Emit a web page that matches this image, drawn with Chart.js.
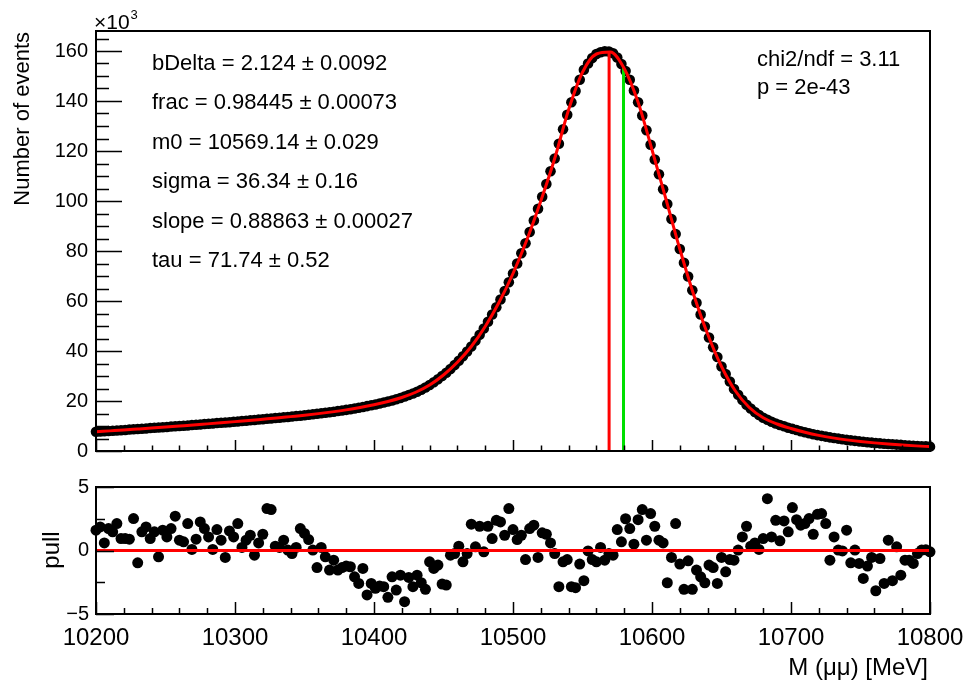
<!DOCTYPE html>
<html>
<head>
<meta charset="utf-8">
<title>Fit of M(mumu)</title>
<script src="https://cdn.jsdelivr.net/npm/chart.js@4.4.1/dist/chart.umd.min.js"></script>
<style>
  html, body { margin: 0; padding: 0; background: #fff; }
  #wrap { position: relative; width: 966px; height: 681px; overflow: hidden; }
  canvas { position: absolute; left: 0; }
  #top { top: 0; }
  #pull { top: 470px; }
</style>
</head>
<body>
<div id="wrap">
  <canvas id="top" width="966" height="470"></canvas>
  <canvas id="pull" width="966" height="211"></canvas>
</div>
<script>
// bins: 3 MeV wide, first bin centre at 10200
const massStart = 10200;
const binWidth = 3;

// events per bin, in units of 10^3
const eventsK = [
  7.7, 7.8, 7.9, 8.0, 8.1, 8.2, 8.3, 8.4, 8.6, 8.7,
  8.8, 8.9, 9.0, 9.2, 9.3, 9.4, 9.5, 9.6, 9.8, 9.9,
  10.0, 10.1, 10.2, 10.4, 10.5, 10.6, 10.8, 10.9, 11.0, 11.2,
  11.3, 11.4, 11.5, 11.7, 11.8, 12.0, 12.1, 12.3, 12.4, 12.6,
  12.7, 12.9, 13.0, 13.2, 13.3, 13.5, 13.6, 13.8, 14.0, 14.1,
  14.3, 14.5, 14.7, 14.9, 15.1, 15.3, 15.5, 15.7, 16.0, 16.2,
  16.45, 16.7, 17.0, 17.3, 17.6, 17.95, 18.3, 18.6, 19.0, 19.4,
  19.8, 20.2, 20.7, 21.2, 21.8, 22.4, 23.0, 23.7, 24.5, 25.4,
  26.4, 27.5, 28.7, 30.0, 31.3, 32.8, 34.4, 36.1, 37.9, 39.8,
  41.8, 44.1, 46.5, 49.0, 51.7, 54.6, 57.5, 60.6, 64.0, 67.5,
  71.0, 75.0, 79.1, 83.1, 87.6, 92.2, 96.9, 101.7, 106.8, 111.9,
  117.0, 122.9, 128.7, 134.5, 139.5, 144.0, 148.5, 152.5, 155.0, 157.2,
  158.8, 159.5, 159.9, 159.8, 159.1, 157.4, 154.8, 152.0, 148.5, 144.2,
  139.5, 134.2, 128.3, 122.5, 116.6, 110.7, 104.7, 98.8, 92.8, 86.8,
  80.8, 75.3, 69.8, 64.3, 59.3, 54.6, 49.8, 45.4, 41.5, 37.6,
  33.8, 30.8, 27.8, 24.8, 22.5, 20.4, 18.5, 17.0, 15.6, 14.4,
  13.3, 12.5, 11.7, 11.0, 10.4, 9.9, 9.3, 8.85, 8.4, 7.9,
  7.5, 7.1, 6.7, 6.35, 6.05, 5.75, 5.45, 5.2, 4.95, 4.7,
  4.45, 4.25, 4.05, 3.85, 3.7, 3.5, 3.35, 3.2, 3.05, 2.9,
  2.8, 2.7, 2.55, 2.45, 2.3, 2.2, 2.1, 2.0, 1.9, 1.85,
  1.75
];

// pull of each bin
const pulls = [
  1.6, 1.86, 0.6, 1.73, 1.47, 2.12, 0.94, 0.94, 0.89, 2.51,
  -0.97, 1.47, 1.86, 0.94, 1.47, -0.5, 1.6, 1.07, 1.73, 2.7,
  0.81, 0.68, 2.12, 0.08, 0.89, 2.25, 1.73, 1.07, 0.08, 1.65,
  0.81, -0.55, 1.54, 1.07, 2.12, 0.24, 0.81, 1.2, -0.37, 0.6,
  1.28, 3.3, 3.22, 0.34, 0.24, 0.81, 0.03, -0.24, 0.24, 1.73,
  1.34, 0.86, 0.03, -1.34, 0.24, -0.5, -1.54, -0.76, -1.54, -1.34,
  -1.23, -1.28, -2.07, -2.59, -1.41, -3.5, -2.59, -2.98, -2.8, -2.85,
  -3.69, -2.07, -3.12, -1.94, -4.03, -2.12, -2.85, -1.94, -2.54, -3.06,
  -0.89, -1.41, -1.15, -2.64, -2.72, -0.37, -0.24, 0.34, -0.89, -0.24,
  2.07, 0.29, 1.91, -0.1, 1.91, 0.94, 2.38, 2.25, 1.2, 3.3,
  1.65, 0.86, 1.2, -0.71, 1.73, 1.99, -0.55, 1.39, 1.28, 0.6,
  -0.24, -2.85, -0.89, -0.71, -2.85, -2.93, -1.07, -2.38, -0.03, -0.71,
  -0.89, 0.24, -0.76, -0.24, -0.37, 1.65, 0.68, 2.5, 1.73, 0.5,
  2.43, 3.22, 0.81, 2.91, 1.91, 0.81, 0.6, -2.54, -0.55, 2.12,
  -1.07, -3.06, -0.81, -3.06, -1.54, -2.07, -2.54, -1.15, -1.34, -2.59,
  -0.55, -1.68, -0.71, -0.76, 0.03, 1.07, 1.91, 0.34, 0.6, 0.08,
  0.94, 4.08, 1.07, 2.38, 0.76, 2.33, 1.47, 3.38, 2.43, 1.99,
  2.12, 2.51, 1.28, 2.85, 2.91, 2.12, -0.76, 1.07, 0.03, -0.03,
  1.6, -0.97, 0.03, -1.02, -2.2, -1.23, -0.55, -3.17, -0.63, -2.59,
  0.81, -2.38, 0.29, -1.94, -0.76, -0.76, -1.02, -0.24, 0.03, 0.05,
  -0.1
];

// fitted model, sampled every 10 MeV (10^3 events)
const fitStart = 10200;
const fitStep = 10;
const fitK = [
  7.7, 8.05, 8.4, 8.8, 9.2, 9.6, 10.0, 10.4, 10.85, 11.3,
  11.75, 12.2, 12.7, 13.2, 13.75, 14.3, 14.95, 15.65, 16.45, 17.4,
  18.5, 19.8, 21.4, 23.5, 26.4, 30.4, 35.5, 41.8, 49.8, 59.5,
  71.0, 84.5, 100.0, 117.0, 136.5, 151.5, 158.8, 159.6, 153.0, 139.5,
  120.5, 100.8, 80.8, 62.5, 46.8, 33.8, 24.0, 17.4, 13.3, 10.8,
  9.0, 7.5, 6.25, 5.25, 4.45, 3.8, 3.25, 2.8, 2.4, 2.05,
  1.75
];

// vertical markers: m0 (red) and second mass (green)
const markerMass = [10569.14, 10579.5];
const markerTopK = [159.7, 153.3];
const markerColors = ['#ff0000', '#00e000'];

const xTickLabels = [10200, 10300, 10400, 10500, 10600, 10700, 10800];
const yTickLabels = [0, 20, 40, 60, 80, 100, 120, 140, 160];
const pullTickLabels = [-5, 0, 5];

const fitParams = [
  'bDelta = 2.124 \u00b1 0.0092',
  'frac = 0.98445 \u00b1 0.00073',
  'm0 = 10569.14 \u00b1 0.029',
  'sigma = 36.34 \u00b1 0.16',
  'slope = 0.88863 \u00b1 0.00027',
  'tau = 71.74 \u00b1 0.52'
];
const fitQuality = ['chi2/ndf = 3.11', 'p = 2e-43'];

const FONT = "'Liberation Sans', Arial, Helvetica, sans-serif";
Chart.defaults.font.family = FONT;
Chart.defaults.color = '#000';
Chart.defaults.animation = false;

const binMass = eventsK.map((_, i) => massStart + i * binWidth);
const fitMass = fitK.map((_, i) => fitStart + i * fitStep);

// ROOT-like frame: box plus ticks pointing inwards, and free text
const rootFrame = {
  id: 'rootFrame',
  afterDraw(chart, args, o) {
    const { ctx, chartArea: a, scales } = chart;
    ctx.save();
    ctx.strokeStyle = '#000';
    ctx.lineWidth = 1.5;
    ctx.beginPath();
    for (let v = 10200; v <= 10800; v += 20) {
      const px = Math.round(scales.x.getPixelForValue(v)) + 0.5;
      const len = v % 100 === 0 ? o.xMajor : o.xMinor;
      ctx.moveTo(px, a.bottom);
      ctx.lineTo(px, a.bottom - len);
    }
    for (let v = o.yMin; v <= o.yMax + 1e-6; v += o.yMinorStep) {
      const py = Math.round(scales.y.getPixelForValue(v)) + 0.5;
      const major = Math.abs(v / o.yMajorStep - Math.round(v / o.yMajorStep)) < 1e-6;
      ctx.moveTo(a.left, py);
      ctx.lineTo(a.left + (major ? o.yMajor : o.yMinor), py);
    }
    ctx.stroke();
    ctx.lineWidth = 2;
    ctx.strokeRect(a.left, a.top, a.right - a.left, a.bottom - a.top);

    ctx.fillStyle = '#000';
    let lastEnd = 0;
    (o.texts || []).forEach(t => {
      ctx.save();
      ctx.font = t.size + 'px ' + FONT;
      ctx.textAlign = t.align || 'left';
      ctx.textBaseline = t.baseline || 'middle';
      const x = t.follow ? lastEnd + 1 : t.x;
      ctx.translate(x, t.y);
      if (t.rotate) ctx.rotate(t.rotate);
      ctx.fillText(t.text, 0, 0);
      lastEnd = x + ctx.measureText(t.text).width;
      ctx.restore();
    });
    ctx.restore();
  }
};

const topTexts = [
  { text: '\u00d710', x: 94, y: 29, size: 21, baseline: 'alphabetic' },
  { text: '3', follow: true, y: 19, size: 13, baseline: 'alphabetic' },
  { text: 'Number of events', x: 23, y: 32, size: 22, align: 'right', rotate: -Math.PI / 2 }
];
fitParams.forEach((t, i) => topTexts.push({ text: t, x: 152, y: 64 + i * 39.4, size: 22 }));
fitQuality.forEach((t, i) => topTexts.push({ text: t, x: 757, y: 60 + i * 28, size: 22 }));

new Chart(document.getElementById('top'), {
  type: 'scatter',
  data: {
    datasets: [
      {
        type: 'line',
        data: fitMass.map((m, i) => ({ x: m, y: fitK[i] })),
        borderColor: '#ff0000',
        borderWidth: 3,
        pointRadius: 0,
        cubicInterpolationMode: 'monotone',
        order: 0
      },
      ...markerMass.map((m, i) => ({
        type: 'line',
        data: [{ x: m, y: 0 }, { x: m, y: markerTopK[i] }],
        borderColor: markerColors[i],
        borderWidth: 3,
        pointRadius: 0,
        order: 0
      })),
      {
        data: binMass.map((m, i) => ({ x: m, y: eventsK[i] })),
        pointRadius: 5.3,
        pointBackgroundColor: '#000',
        pointBorderWidth: 0,
        clip: false,
        order: 2
      }
    ]
  },
  options: {
    responsive: false,
    events: [],
    layout: { padding: { left: 0, right: 36, top: 31, bottom: 19 } },
    plugins: {
      legend: { display: false },
      tooltip: { enabled: false },
      rootFrame: {
        xMajor: 11, xMinor: 5.5,
        yMin: 0, yMax: 168, yMajorStep: 20, yMinorStep: 5, yMajor: 26, yMinor: 13,
        texts: topTexts
      }
    },
    scales: {
      x: { type: 'linear', min: 10200, max: 10800, display: false },
      y: {
        type: 'linear', min: 0, max: 168,
        grid: { display: false, drawTicks: false },
        border: { display: false },
        afterBuildTicks: s => { s.ticks = yTickLabels.map(v => ({ value: v })); },
        ticks: { padding: 8, font: { size: 20 }, color: '#000', callback: v => String(v) },
        afterFit: s => { s.width = 96; s.paddingTop = 0; s.paddingBottom = 0; }
      }
    }
  },
  plugins: [rootFrame]
});

const pullTexts = [
  { text: 'pull', x: 52, y: 80, size: 24, align: 'center', rotate: -Math.PI / 2 },
  { text: 'M (\u03bc\u03bc) [MeV]', x: 928, y: 205, size: 24, align: 'right', baseline: 'alphabetic' }
];

new Chart(document.getElementById('pull'), {
  type: 'scatter',
  data: {
    datasets: [
      {
        type: 'line',
        data: [{ x: 10200, y: 0 }, { x: 10800, y: 0 }],
        borderColor: '#ff0000',
        borderWidth: 3,
        pointRadius: 0,
        order: 0
      },
      {
        data: binMass.map((m, i) => ({ x: m, y: pulls[i] })),
        pointRadius: 5.5,
        pointBackgroundColor: '#000',
        pointBorderWidth: 0,
        clip: false,
        order: 1
      }
    ]
  },
  options: {
    responsive: false,
    events: [],
    layout: { padding: { left: 0, right: 36, top: 17, bottom: 0 } },
    plugins: {
      legend: { display: false },
      tooltip: { enabled: false },
      rootFrame: {
        xMajor: 12, xMinor: 6,
        yMin: -5, yMax: 5, yMajorStep: 5, yMinorStep: 2.5, yMajor: 18, yMinor: 9,
        texts: pullTexts
      }
    },
    scales: {
      x: {
        type: 'linear', min: 10200, max: 10800,
        grid: { display: false, drawTicks: false },
        border: { display: false },
        afterBuildTicks: s => { s.ticks = xTickLabels.map(v => ({ value: v })); },
        ticks: {
          padding: 10, font: { size: 24 }, color: '#000', maxRotation: 0, autoSkip: false,
          callback: v => String(v)
        },
        afterFit: s => { s.height = 67; s.paddingLeft = 0; s.paddingRight = 0; }
      },
      y: {
        type: 'linear', min: -5, max: 5,
        grid: { display: false, drawTicks: false },
        border: { display: false },
        afterBuildTicks: s => { s.ticks = pullTickLabels.map(v => ({ value: v })); },
        ticks: {
          padding: 7, font: { size: 20 }, color: '#000',
          callback: v => (v < 0 ? '\u2212' + Math.abs(v) : String(v))
        },
        afterFit: s => { s.width = 96; s.paddingTop = 0; s.paddingBottom = 0; }
      }
    }
  },
  plugins: [rootFrame]
});
</script>
</body>
</html>
